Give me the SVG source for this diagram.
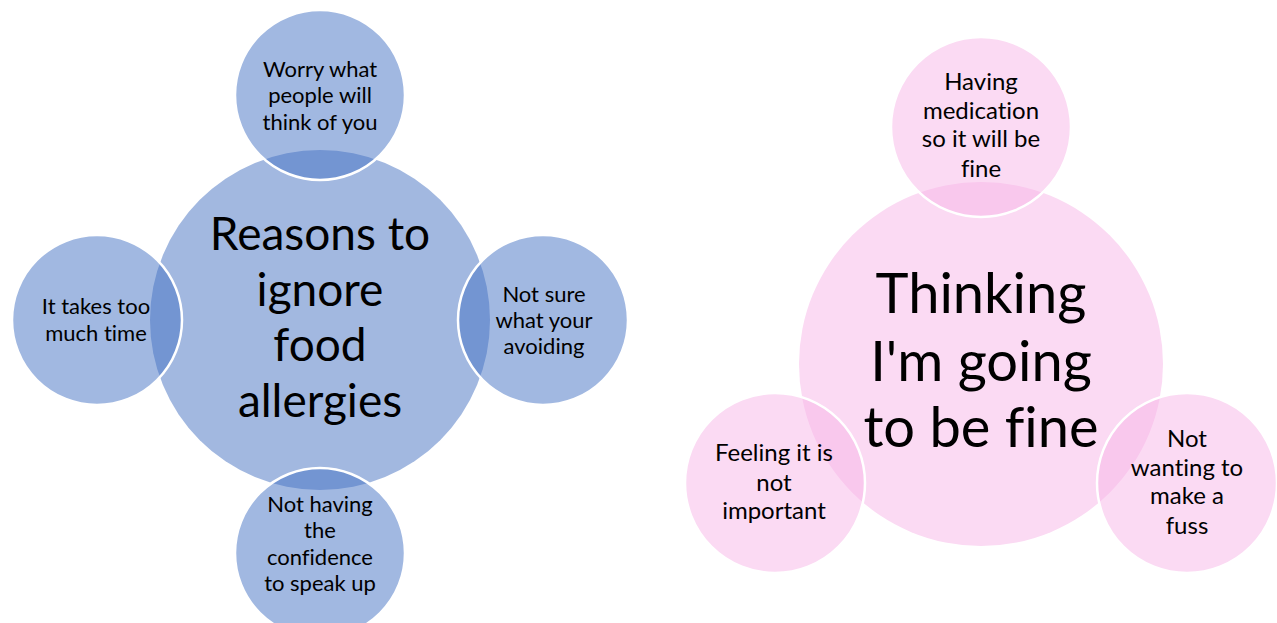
<svg xmlns="http://www.w3.org/2000/svg" width="1277" height="623" viewBox="0 0 1277 623">
  <style>
    .bg { fill: #ffffff; }
    .bc { fill: #A2B8E0; }
    .bs { fill: #4472C4; fill-opacity: 0.5; stroke: #ffffff; stroke-width: 2.5; }
    .pc { fill: #FBDAF3; }
    .ps { fill: #F7B6E7; fill-opacity: 0.5; stroke: #ffffff; stroke-width: 2.5; }
    text { font-family: Lato, "Open Sans", "Liberation Sans", sans-serif; fill: #000000; text-anchor: middle; font-variant-ligatures: none; font-feature-settings: "liga" 0; }
    .s1 { font-size: 22px; }
    .s2 { font-size: 24px; }
    .c1 { font-size: 46px; }
    .c2 { font-size: 56px; }
  </style>
  <rect class="bg" x="0" y="0" width="1277" height="623"/>
  <g id="connectors"/>

  <g id="node-reasons">
    <circle class="bc" cx="320" cy="320" r="170"/>
    <text class="c1" x="320" y="250">Reasons to</text>
    <text class="c1" x="320" y="306">ignore</text>
    <text class="c1" x="320" y="361">food</text>
    <text class="c1" x="320" y="417">allergies</text>
  </g>
  <g id="node-worry">
    <circle class="bs" cx="320" cy="95" r="85"/>
    <text class="s1" x="320" y="77">Worry what</text>
    <text class="s1" x="320" y="103">people will</text>
    <text class="s1" x="320" y="130">think of you</text>
  </g>
  <g id="node-time">
    <circle class="bs" cx="97" cy="320" r="85"/>
    <text class="s1" x="96" y="314">It takes too</text>
    <text class="s1" x="96" y="341">much time</text>
  </g>
  <g id="node-notsure">
    <circle class="bs" cx="543" cy="320" r="85"/>
    <text class="s1" x="544" y="302">Not sure</text>
    <text class="s1" x="544" y="328">what your</text>
    <text class="s1" x="544" y="354">avoiding</text>
  </g>
  <g id="node-confidence">
    <circle class="bs" cx="320" cy="553" r="85"/>
    <text class="s1" x="320" y="512">Not having</text>
    <text class="s1" x="320" y="538">the</text>
    <text class="s1" x="320" y="565">confidence</text>
    <text class="s1" x="320" y="591">to speak up</text>
  </g>

  <g id="node-thinking">
    <circle class="pc" cx="981" cy="364" r="182"/>
    <text class="c2" x="981" y="313">Thinking</text>
    <text class="c2" x="981" y="381">I'm going</text>
    <text class="c2" x="981" y="447">to be fine</text>
  </g>
  <g id="node-medication">
    <circle class="ps" cx="981" cy="127" r="90"/>
    <text class="s2" x="981" y="90">Having</text>
    <text class="s2" x="981" y="119">medication</text>
    <text class="s2" x="981" y="147">so it will be</text>
    <text class="s2" x="981" y="177">fine</text>
  </g>
  <g id="node-feeling">
    <circle class="ps" cx="775" cy="483" r="90"/>
    <text class="s2" x="774" y="461">Feeling it is</text>
    <text class="s2" x="774" y="491">not</text>
    <text class="s2" x="774" y="519">important</text>
  </g>
  <g id="node-fuss">
    <circle class="ps" cx="1187" cy="483" r="90"/>
    <text class="s2" x="1187" y="447">Not</text>
    <text class="s2" x="1187" y="476">wanting to</text>
    <text class="s2" x="1187" y="504">make a</text>
    <text class="s2" x="1187" y="534">fuss</text>
  </g>
</svg>
